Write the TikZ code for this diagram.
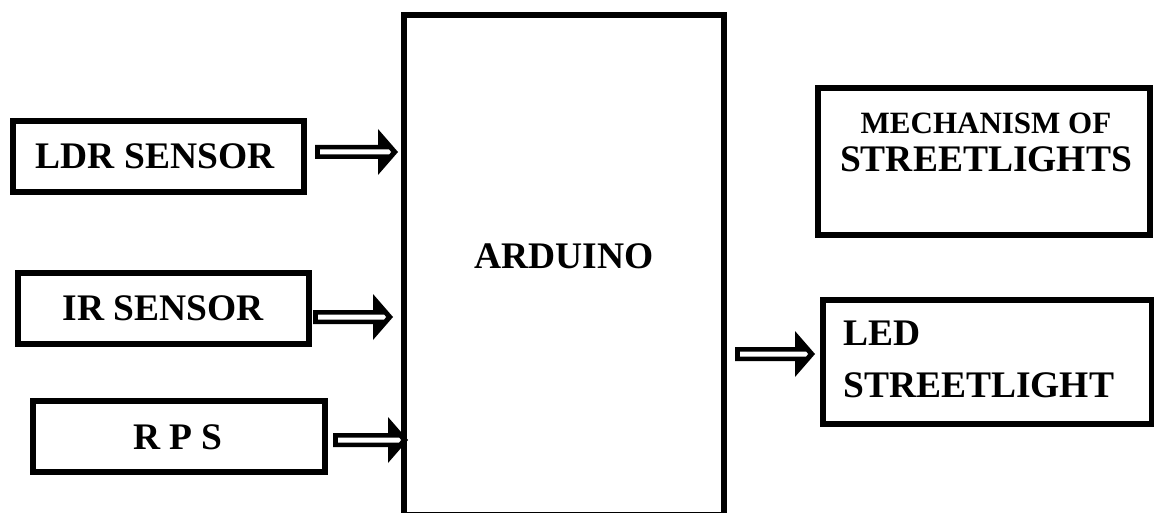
\documentclass[tikz,border=0pt]{standalone}
\usepackage{fontspec}
\setmainfont{Liberation Serif}
\usetikzlibrary{calc}
\begin{document}
\begin{tikzpicture}[x=1pt,y=-1pt,
  box/.style={draw=black,line width=6pt,fill=white,inner sep=0pt,outer sep=0pt,
    font=\fontsize{37.5}{40}\selectfont\bfseries},
  lbl/.style={inner sep=0pt,font=\fontsize{37.5}{40}\selectfont\bfseries},
  barrow/.style={fill=black},
  bcore/.style={fill=white}]
\useasboundingbox (0,0) rectangle (1154,513);
% boxes
\node[box,minimum width=291pt,minimum height=71pt] (ldr) at (158.5,156.5) {};
\node[lbl] (ldrtxt) at (155,156) {LDR SENSOR};
\node[box,minimum width=291pt,minimum height=71pt] (ir) at (163.5,308.5) {};
\node[lbl] (irtxt) at (163,308) {IR SENSOR};
\node[box,minimum width=292pt,minimum height=71pt] (rps) at (179,436.5) {};
\node[lbl] (rpstxt) at (178,437) {R P S};
\node[box,minimum width=320pt,minimum height=500pt] (ard) at (564,265) {};
\node[lbl] (ardtxt) at (564,256) {ARDUINO};
\node[box,minimum width=332pt,minimum height=147pt] (mech) at (984,161.5) {};
\node[lbl,align=center,anchor=north] (mechtxt) at (986,113)
  {{\fontsize{31}{36}\selectfont MECHANISM OF}\\[-2pt]STREETLIGHTS};
\node[box,minimum width=329pt,minimum height=124pt] (led) at (987.5,362) {};
\node[lbl,align=left,anchor=north west] (ledtxt) at (843,320.5)
  {LED\\[12pt]STREETLIGHT};
% arrow end points (outer start, outer tip)
\coordinate (a1s) at (315,152); \coordinate (a1e) at (398,152);
\coordinate (a2s) at (313,317); \coordinate (a2e) at (393,317);
\coordinate (a3s) at (333,440); \coordinate (a3e) at (408,440);
\coordinate (a4s) at (735,354); \coordinate (a4e) at (815,354);
\foreach \s/\e in {a1s/a1e,a2s/a2e,a3s/a3e,a4s/a4e}{
  \fill[barrow] let \p1=(\s), \p2=(\e) in
    (\x1,\y1+7pt) -- (\x2-20pt,\y1+7pt) -- (\x2-20pt,\y1+23pt) -- (\x2,\y1)
    -- (\x2-20pt,\y1-23pt) -- (\x2-20pt,\y1-7pt) -- (\x1,\y1-7pt) -- cycle;
  \fill[bcore] let \p1=(\s), \p2=(\e) in
    (\x1+5pt,\y1+2.5pt) -- (\x2-9pt,\y1+2.5pt) -- (\x2-7pt,\y1) -- (\x2-9pt,\y1-2.5pt)
    -- (\x1+5pt,\y1-2.5pt) -- cycle;
}
\end{tikzpicture}
\end{document}
